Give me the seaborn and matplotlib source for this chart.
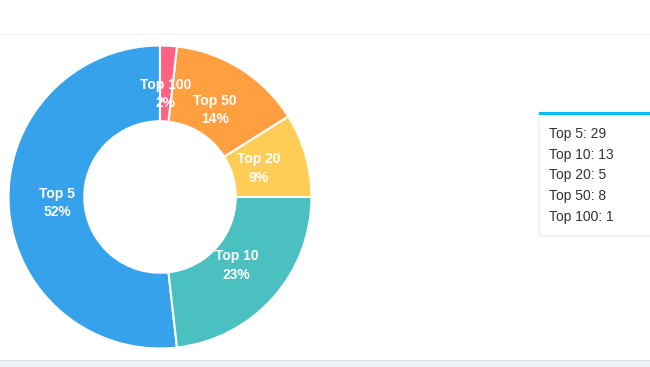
import matplotlib
matplotlib.use("Agg")
import matplotlib.pyplot as plt
import seaborn as sns
from matplotlib.patches import FancyBboxPatch, Rectangle

# data
categories = ["Top 5", "Top 10", "Top 20", "Top 50", "Top 100"]
counts = [29, 13, 5, 8, 1]
slice_colors = ["#36A2EB", "#4BC0C0", "#FFCD56", "#FF9F40", "#FF6384"]

sns.set_theme(style="white")
plt.rcParams["font.family"] = ["Liberation Sans", "DejaVu Sans"]

W, H = 650, 367
fig = plt.figure(figsize=(W / 100, H / 100), dpi=100)
fig.patch.set_facecolor("white")

# page decorations: header separator and footer band
fig.add_artist(Rectangle((0, 1 - 35 / H), 1, 1.5 / H, transform=fig.transFigure,
                         color="#f1f1f1", lw=0))
fig.add_artist(Rectangle((0, 0), 1, 6 / H, transform=fig.transFigure,
                         color="#ecf0f5", lw=0))
fig.add_artist(Rectangle((0, 6 / H), 1, 1 / H, transform=fig.transFigure,
                         color="#d8dde3", lw=0))

# donut
cx, cy, r = 160, 197, 153
ax = fig.add_axes([(cx - r) / W, (H - cy - r) / H, 2 * r / W, 2 * r / H])
total = sum(counts)
labels = [f"{c}\n{round(v / total * 100)}%" for c, v in zip(categories, counts)]
wedges, texts = ax.pie(counts, colors=sns.color_palette(slice_colors), startangle=90,
                       counterclock=True, radius=1, labels=labels, labeldistance=0.68,
                       wedgeprops=dict(width=0.5, edgecolor="white", linewidth=1.5),
                       textprops=dict(color="white", fontsize=10, fontweight="bold",
                                      ha="center", va="center", linespacing=1.4))
ax.set_xlim(-1.01, 1.01)
ax.set_ylim(-1.01, 1.01)
ax.axis("off")

# info box on the right
bx0, by0, bx1, by1 = 539, 112, 660, 236
fig.add_artist(FancyBboxPatch((bx0 / W, 1 - by1 / H), (bx1 - bx0) / W, (by1 - by0) / H,
                              boxstyle="round,pad=0,rounding_size=0.004",
                              transform=fig.transFigure, facecolor="white",
                              edgecolor="#ebebeb", lw=0.8))
fig.add_artist(Rectangle((bx0 / W, 1 - (by0 + 3) / H), (bx1 - bx0) / W, 3 / H,
                         transform=fig.transFigure, color="#00c0ef", lw=0))
for i, (c, v) in enumerate(zip(categories, counts)):
    y = 134 + i * 20.7
    fig.text(549 / W, 1 - y / H, f"{c}: {v}", fontsize=10, color="#333333",
             ha="left", va="center")

fig.savefig("out.png", dpi=100)
